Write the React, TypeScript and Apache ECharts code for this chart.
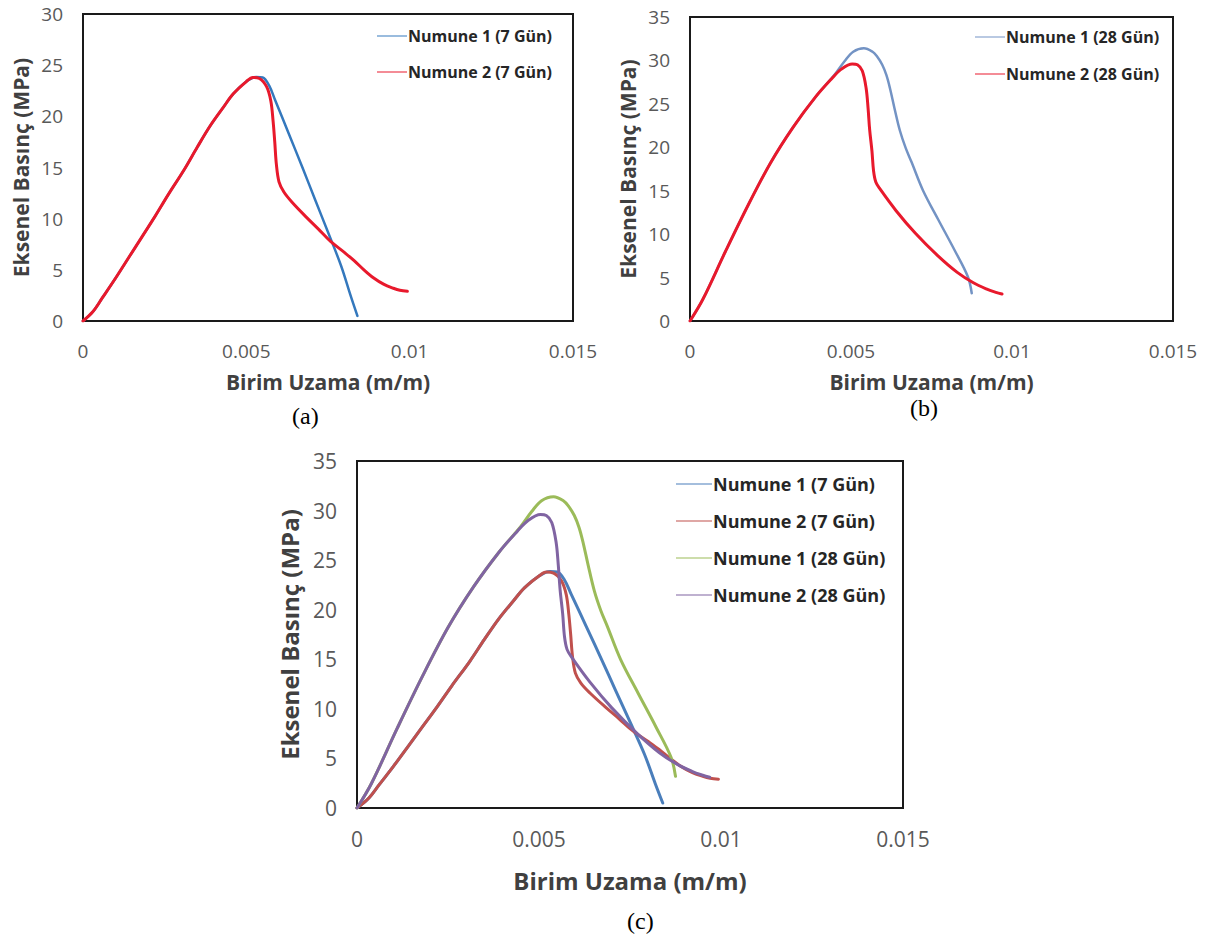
import React, { useEffect, useRef } from "react";
import * as echarts from "echarts";

// Birim Uzama (m/m), Eksenel Basınç (MPa)
const numune1_7gun: [number, number][] = [
  [0, 0], [0.0003, 0.9], [0.0006, 2.3], [0.001, 4.2], [0.0014, 6.2], [0.0018, 8.2],
  [0.0022, 10.2], [0.0026, 12.3], [0.0031, 14.8], [0.0035, 17.0], [0.0039, 19.1],
  [0.0043, 20.9], [0.0046, 22.2], [0.005, 23.4], [0.0053, 23.85], [0.0055, 23.8],
  [0.0057, 23.0], [0.00588, 21.6], [0.0063, 18.3], [0.00673, 14.9], [0.0071, 11.9],
  [0.00751, 8.6], [0.0079, 5.4], [0.0082, 2.4], [0.0084, 0.5],
];
const numune2_7gun: [number, number][] = [
  [0, 0], [0.0003, 0.9], [0.0006, 2.3], [0.001, 4.2], [0.0014, 6.2], [0.0018, 8.2],
  [0.0022, 10.2], [0.0026, 12.3], [0.0031, 14.8], [0.0035, 17.0], [0.0039, 19.1],
  [0.0043, 20.9], [0.0046, 22.2], [0.005, 23.4], [0.0052, 23.8], [0.0054, 23.7],
  [0.00562, 22.9], [0.00575, 21.5], [0.00582, 19.5], [0.00587, 17.5], [0.00592, 15.3],
  [0.006, 13.6], [0.00615, 12.6], [0.0064, 11.6], [0.00685, 10.1], [0.0072, 9.0],
  [0.00757, 7.8], [0.008, 6.7], [0.0083, 5.9], [0.0086, 5.0], [0.0089, 4.2],
  [0.0092, 3.6], [0.0095, 3.2], [0.0097, 3.0], [0.00993, 2.9],
];
const numune1_28gun: [number, number][] = [
  [0, 0], [0.0004, 2.5], [0.0011, 8.0], [0.0018, 13.3], [0.0025, 18.2], [0.0032, 22.3],
  [0.0039, 25.8], [0.0045, 28.4], [0.0048, 29.9], [0.00507, 31.0], [0.0054, 31.4],
  [0.00567, 31.0], [0.0058, 30.5], [0.00597, 29.5], [0.0061, 28.3], [0.00621, 26.8],
  [0.00635, 24.5], [0.00652, 21.9], [0.0067, 19.9], [0.00688, 18.3], [0.00724, 15.0],
  [0.00772, 11.6], [0.00821, 8.2], [0.00863, 5.1], [0.00875, 3.2],
];
const numune2_28gun: [number, number][] = [
  [0, 0], [0.0004, 2.5], [0.0011, 8.0], [0.0018, 13.3], [0.0025, 18.2], [0.0032, 22.3],
  [0.0039, 25.8], [0.0044, 27.9], [0.0047, 29.0], [0.00504, 29.6], [0.0052, 29.5],
  [0.00535, 28.8], [0.00547, 26.8], [0.00553, 24.5], [0.00558, 22.0], [0.00565, 19.6],
  [0.0057, 17.3], [0.00577, 16.0], [0.0059, 15.2], [0.0064, 12.7], [0.007, 10.1],
  [0.0077, 7.5], [0.0083, 5.6], [0.0088, 4.4], [0.0092, 3.7], [0.0095, 3.3], [0.00969, 3.1],
];

const names = {
  n1_7: "Numune 1 (7 Gün)",
  n2_7: "Numune 2 (7 Gün)",
  n1_28: "Numune 1 (28 Gün)",
  n2_28: "Numune 2 (28 Gün)",
};
const xTitle = "Birim Uzama (m/m)";
const yTitle = "Eksenel Basınç (MPa)";
const captions = ["(a)", "(b)", "(c)"];

const FONT = "'Open Sans', sans-serif";

export default function App() {
  const ref = useRef<HTMLDivElement>(null);
  useEffect(() => {
    document.body.style.margin = "0";
    const chart = echarts.init(ref.current!, null, { renderer: "svg" });

    const grids = [
      { left: 83, top: 14, width: 490, height: 307 },
      { left: 690, top: 17, width: 483, height: 304 },
      { left: 357, top: 461, width: 546, height: 347 },
    ];
    const yMax = [30, 35, 35];
    const tickFont = [19, 19, 21];
    const titleFont = [21, 21, 24];
    const xGap = [50, 50, 60];
    const yGap = [52, 52, 56];

    const line = (name: string, data: [number, number][], idx: number, color: string, width: number) => ({
      type: "line",
      name,
      data,
      xAxisIndex: idx,
      yAxisIndex: idx,
      symbol: "none",
      smooth: 0.35,
      lineStyle: { color, width, cap: "round", join: "round" },
      itemStyle: { color },
    });

    const legendItem = (name: string, color: string) => ({
      name,
      icon: "path://M0,0 L30,0 L30,1 L0,1 Z",
      itemStyle: { color },
    });

    const option: any = {
      animation: false,
      backgroundColor: "#ffffff",
      grid: grids.map((g) => ({
        ...g,
        show: true,
        borderColor: "#1a1a1a",
        borderWidth: 2,
        backgroundColor: "transparent",
        containLabel: false,
      })),
      xAxis: grids.map((_, i) => ({
        type: "value",
        gridIndex: i,
        min: 0,
        max: 0.015,
        interval: 0.005,
        axisLine: { show: false },
        axisTick: { show: false },
        splitLine: { show: false },
        axisLabel: { color: "#595959", fontSize: tickFont[i], fontFamily: FONT, margin: 20 },
        name: xTitle,
        nameLocation: "middle",
        nameGap: xGap[i],
        nameTextStyle: { color: "#404040", fontSize: titleFont[i], fontWeight: "bold", fontFamily: FONT },
      })),
      yAxis: grids.map((_, i) => ({
        type: "value",
        gridIndex: i,
        min: 0,
        max: yMax[i],
        interval: 5,
        axisLine: { show: false },
        axisTick: { show: false },
        splitLine: { show: false },
        axisLabel: { color: "#595959", fontSize: tickFont[i], fontFamily: FONT, margin: 20 },
        name: yTitle,
        nameLocation: "middle",
        nameGap: yGap[i],
        nameTextStyle: { color: "#404040", fontSize: titleFont[i], fontWeight: "bold", fontFamily: FONT },
      })),
      legend: [
        {
          orient: "vertical",
          left: 372,
          top: 23,
          itemWidth: 30,
          itemHeight: 3,
          itemGap: 20,
          selectedMode: false,
          textStyle: { color: "#262626", fontSize: 16, fontWeight: "bold", fontFamily: FONT, padding: [0, 0, 0, -4] },
          data: [legendItem(names.n1_7, "#3478bd"), legendItem(names.n2_7, "#e8192c")],
        },
        {
          orient: "vertical",
          left: 970,
          top: 24,
          itemWidth: 30,
          itemHeight: 3,
          itemGap: 21,
          selectedMode: false,
          textStyle: { color: "#262626", fontSize: 16, fontWeight: "bold", fontFamily: FONT, padding: [0, 0, 0, -4] },
          data: [legendItem(names.n1_28, "#7393c4"), legendItem(names.n2_28, "#e8192c")],
        },
        {
          orient: "vertical",
          left: 671,
          top: 470,
          itemWidth: 36,
          itemHeight: 3,
          itemGap: 19,
          selectedMode: false,
          textStyle: { color: "#262626", fontSize: 18, fontWeight: "bold", fontFamily: FONT, padding: [0, 0, 0, -4] },
          data: [
            legendItem(names.n1_7, "#4a7ebb"),
            legendItem(names.n2_7, "#c0504d"),
            legendItem(names.n1_28, "#9bbb59"),
            legendItem(names.n2_28, "#8064a2"),
          ],
        },
      ],
      graphic: [
        { type: "text", left: 292, top: 404, style: { text: captions[0], font: "24px 'Liberation Serif', serif", fill: "#000" } },
        { type: "text", left: 910, top: 396, style: { text: captions[1], font: "24px 'Liberation Serif', serif", fill: "#000" } },
        { type: "text", left: 627, top: 909, style: { text: captions[2], font: "24px 'Liberation Serif', serif", fill: "#000" } },
      ],
      series: [
        line(names.n1_7, numune1_7gun, 0, "#3478bd", 2.5),
        line(names.n2_7, numune2_7gun, 0, "#e8192c", 3),
        line(names.n1_28, numune1_28gun, 1, "#7393c4", 2.5),
        line(names.n2_28, numune2_28gun, 1, "#e8192c", 3),
        line(names.n1_7, numune1_7gun, 2, "#4a7ebb", 3),
        line(names.n2_7, numune2_7gun, 2, "#c0504d", 3),
        line(names.n1_28, numune1_28gun, 2, "#9bbb59", 3),
        line(names.n2_28, numune2_28gun, 2, "#8064a2", 3),
      ],
    };
    chart.setOption(option);
    return () => chart.dispose();
  }, []);
  return <div ref={ref} style={{ width: 1212, height: 941 }} />;
}
